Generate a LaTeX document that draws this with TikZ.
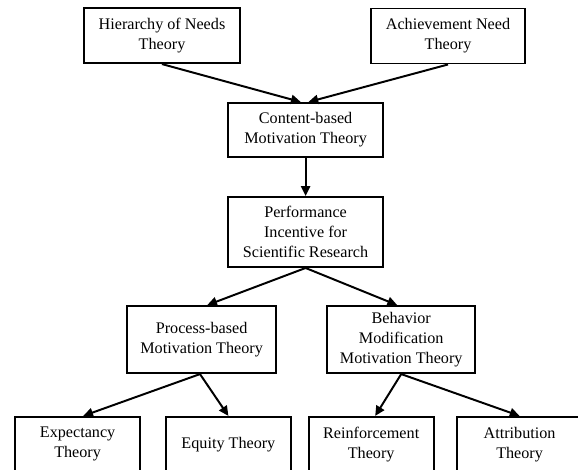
\documentclass[tikz,border=0pt]{standalone}
\usepackage{fontspec}
\setmainfont{Liberation Serif}
\usepackage{tikz}
\usetikzlibrary{arrows.meta, positioning}

\begin{document}
\begin{tikzpicture}[
  box/.style={draw, line width=1.4pt, minimum height=1.375cm, align=center, inner sep=2pt, font=\fontsize{11.5}{14.2}\selectfont},
  arrow/.style={-{Triangle[length=7pt, width=6.5pt]}, line width=1.4pt}
]
  \useasboundingbox (0, 0) rectangle (14.45, -11.75);
  \clip (0, 0) rectangle (14.45, -11.75);

  \node[box, minimum width=3.9cm] (hierarchy) at (4.05, -0.89) {Hierarchy of Needs\\Theory};
  \node[box, minimum width=3.85cm] (achievement) at (11.2, -0.9) {Achievement Need\\Theory};
  \node[box, minimum width=3.875cm, minimum height=1.35cm] (content) at (7.64, -3.25) {Content-based\\Motivation Theory};
  \node[box, minimum width=3.875cm, minimum height=1.75cm] (performance) at (7.64, -5.8) {Performance\\Incentive for\\Scientific Research};
  \node[box, minimum width=3.725cm, minimum height=1.675cm] (process) at (5.04, -8.49) {Process-based\\Motivation Theory};
  \node[box, minimum width=3.7cm, minimum height=1.675cm] (behavior) at (10.03, -8.49) {Behavior\\Modification\\Motivation Theory};

  \node[box, minimum width=3.125cm] (expectancy) at (1.94, -11.11) {Expectancy\\Theory};
  \node[box, minimum width=3.125cm] (equity) at (5.71, -11.11) {Equity Theory};
  \node[box, minimum width=3.125cm] (reinforcement) at (9.28, -11.11) {Reinforcement\\Theory};
  \node[box, minimum width=3.125cm] (attribution) at (12.99, -11.11) {Attribution\\Theory};

  \draw[arrow] (hierarchy.south) -- ([xshift=-0.12cm]content.north);
  \draw[arrow] (achievement.south) -- ([xshift=0.07cm]content.north);
  \draw[arrow] (content) -- (performance);
  \draw[arrow] (performance.south) -- ([xshift=0.14cm]process.north);
  \draw[arrow] (performance.south) -- ([xshift=-0.1cm]behavior.north);
  \draw[arrow] ([xshift=-0.04cm]process.south) -- ([xshift=0.14cm]expectancy.north);
  \draw[arrow] ([xshift=-0.04cm]process.south) -- (equity.north);
  \draw[arrow] (behavior.south) -- ([xshift=0.1cm]reinforcement.north);
  \draw[arrow] (behavior.south) -- (attribution.north);
\end{tikzpicture}
\end{document}
